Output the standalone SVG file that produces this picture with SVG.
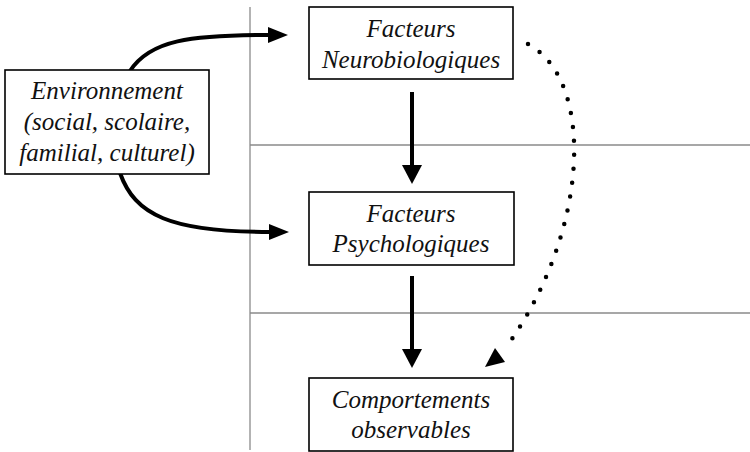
<svg xmlns="http://www.w3.org/2000/svg" width="750" height="452" viewBox="0 0 750 452">
<defs>
<style>
.guide{stroke:#8a8a8a;stroke-width:1.3;fill:none}
.box{fill:#fff;stroke:#000;stroke-width:1.6}
.lbl{font-family:"Liberation Serif","Times New Roman",serif;font-style:italic;font-size:25px;fill:#111;text-anchor:middle}
.arr{stroke:#000;stroke-width:4;fill:none}
.dot{stroke:#000;stroke-width:4.5;fill:none;stroke-linecap:round;stroke-dasharray:0 14}
.head{fill:#000}
</style>
</defs>
<rect width="750" height="452" fill="#fff"/>
<g id="guides">
<line class="guide" x1="250" y1="7" x2="250" y2="450"/>
<line class="guide" x1="250" y1="145" x2="750" y2="145"/>
<line class="guide" x1="250" y1="313" x2="750" y2="313"/>
</g>
<g id="connectors">
<path class="arr" d="M130,71 C150,40 190,35 270,35"/>
<polygon class="head" points="268,27 288,35 268,43"/>
<path class="arr" d="M120,173 C135,215 170,232 270,232"/>
<polygon class="head" points="269,224 289,232 269,240"/>
<line class="arr" x1="412" y1="92" x2="412" y2="166"/>
<polygon class="head" points="402,165 422,165 412,184"/>
<line class="arr" x1="412" y1="276" x2="412" y2="351"/>
<polygon class="head" points="402,349 422,349 412,368"/>
<path class="dot" d="M528,44 C595,80 590,230 507,346"/>
<polygon class="head" points="485,367 495,348 505,362"/>
</g>
<g id="env">
<rect class="box" x="5" y="70" width="204" height="104"/>
<text class="lbl" x="107" y="99">Environnement</text>
<text class="lbl" x="107" y="130">(social, scolaire,</text>
<text class="lbl" x="107" y="161">familial, culturel)</text>
</g>
<g id="neuro">
<rect class="box" x="309" y="7" width="204" height="72"/>
<text class="lbl" x="411" y="37">Facteurs</text>
<text class="lbl" x="411" y="68">Neurobiologiques</text>
</g>
<g id="psycho">
<rect class="box" x="309" y="192" width="205" height="73"/>
<text class="lbl" x="411" y="222">Facteurs</text>
<text class="lbl" x="411" y="252">Psychologiques</text>
</g>
<g id="comport">
<rect class="box" x="309" y="378" width="204" height="73"/>
<text class="lbl" x="411" y="408">Comportements</text>
<text class="lbl" x="411" y="438">observables</text>
</g>
</svg>
